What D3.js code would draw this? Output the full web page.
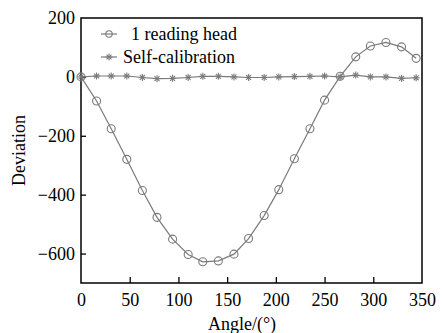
<!DOCTYPE html>
<html>
<head>
<meta charset="utf-8">
<script src="https://cdn.jsdelivr.net/npm/d3@7"></script>
<style>
  body { margin: 0; background: #fff; }
  svg { display: block; }
</style>
</head>
<body>
<svg width="444" height="333" font-family="Liberation Serif, DejaVu Serif, serif"></svg>
<script>
// angles (23 samples per turn)
const angles = [0, 16, 31, 47, 63, 78, 94, 110, 125, 141, 157, 172, 188, 203, 219, 235, 250, 266, 282, 297, 313, 329, 344];
const readingHead = [0, -82, -176, -280, -386, -477, -551, -603, -628, -625, -602, -549, -471, -383, -278, -176, -79, 2, 68, 105, 117, 102, 63];
const selfCal = [0, 3, 3, 3, -2, -6, -5, -2, 2, 2, 0, -2, -2, 0, 1, 2, 3, 0, 6, 0, 0, -5, -3];
const xTicks = [0, 50, 100, 150, 200, 250, 300, 350];
const yTicks = [-600, -400, -200, 0, 200];

const svg = d3.select('svg');
const margin = { top: 18, right: 22, bottom: 50, left: 81 };
const width = 444, height = 333;
const serif = 'Liberation Serif, DejaVu Serif, serif';

const x = d3.scaleLinear().domain([0, 350]).range([margin.left, width - margin.right]);
const y = d3.scaleLinear().domain([-700, 200]).range([height - margin.bottom, margin.top]);

const grey = '#7a7a7a';

// frame
svg.append('rect')
  .attr('x', x(0)).attr('y', y(200))
  .attr('width', x(350) - x(0)).attr('height', y(-700) - y(200))
  .attr('fill', 'none').attr('stroke', '#000').attr('stroke-width', 1.5);

// axes, ticks pointing inward
const xAxis = svg.append('g')
  .attr('transform', `translate(0, ${y(-700)})`)
  .call(d3.axisBottom(x).tickValues(xTicks).tickSizeInner(-6).tickSizeOuter(0).tickPadding(10));
const yAxis = svg.append('g')
  .attr('transform', `translate(${x(0)}, 0)`)
  .call(d3.axisLeft(y).tickValues(yTicks).tickSizeInner(-5).tickSizeOuter(0).tickPadding(6).tickFormat(d => d < 0 ? '\u2212' + Math.abs(d) : d));

[xAxis, yAxis].forEach(a => {
  a.attr('font-family', serif).attr('font-size', 18);
  a.select('.domain').remove();
  a.selectAll('line').attr('stroke', '#000').attr('stroke-width', 1.3);
  a.selectAll('text').attr('fill', '#000');
});
xAxis.selectAll('.tick').filter(d => d === 0 || d === 350).select('line').remove();
yAxis.selectAll('.tick').filter(d => d === 200).select('line').remove();

// titles
svg.append('text')
  .attr('x', 242).attr('y', 330)
  .attr('text-anchor', 'middle').attr('font-size', 18)
  .text('Angle/(\u00b0)');
svg.append('text')
  .attr('transform', `translate(25, ${y(-250)}) rotate(-90)`)
  .attr('text-anchor', 'middle').attr('font-size', 18)
  .text('Deviation');

const line = d3.line().x(d => x(d[0])).y(d => y(d[1]));
const headPts = angles.map((a, i) => [a, readingHead[i]]);
const calPts = angles.map((a, i) => [a, selfCal[i]]);

// asterisk marker
function star(g, cx, cy, r) {
  for (let k = 0; k < 4; k++) {
    const ang = k * Math.PI / 4;
    g.append('line')
      .attr('x1', cx - r * Math.cos(ang)).attr('y1', cy - r * Math.sin(ang))
      .attr('x2', cx + r * Math.cos(ang)).attr('y2', cy + r * Math.sin(ang))
      .attr('stroke', grey).attr('stroke-width', 1.1);
  }
}

// self-calibration series
svg.append('path').attr('d', line(calPts))
  .attr('fill', 'none').attr('stroke', grey).attr('stroke-width', 1.2);
const calG = svg.append('g');
calPts.forEach(p => star(calG, x(p[0]), y(p[1]), 3.5));

// reading head series
svg.append('path').attr('d', line(headPts))
  .attr('fill', 'none').attr('stroke', grey).attr('stroke-width', 1.2);
svg.append('g').selectAll('circle').data(headPts)
  .enter().append('circle')
  .attr('cx', d => x(d[0])).attr('cy', d => y(d[1]))
  .attr('r', 4)
  .attr('fill', 'none').attr('stroke', grey).attr('stroke-width', 1.1);

// legend
const lg = svg.append('g').attr('font-size', 18);
lg.append('line').attr('x1', 101).attr('x2', 117).attr('y1', 34).attr('y2', 34)
  .attr('stroke', grey).attr('stroke-width', 1.2);
lg.append('circle').attr('cx', 109).attr('cy', 34).attr('r', 3.2)
  .attr('fill', 'none').attr('stroke', grey).attr('stroke-width', 1.1);
lg.append('text').attr('x', 131).attr('y', 39.5).text('1 reading head');
lg.append('line').attr('x1', 101).attr('x2', 117).attr('y1', 57).attr('y2', 57)
  .attr('stroke', grey).attr('stroke-width', 1.2);
star(lg, 109, 57, 3.5);
lg.append('text').attr('x', 123).attr('y', 62.5).text('Self-calibration');
</script>
</body>
</html>
